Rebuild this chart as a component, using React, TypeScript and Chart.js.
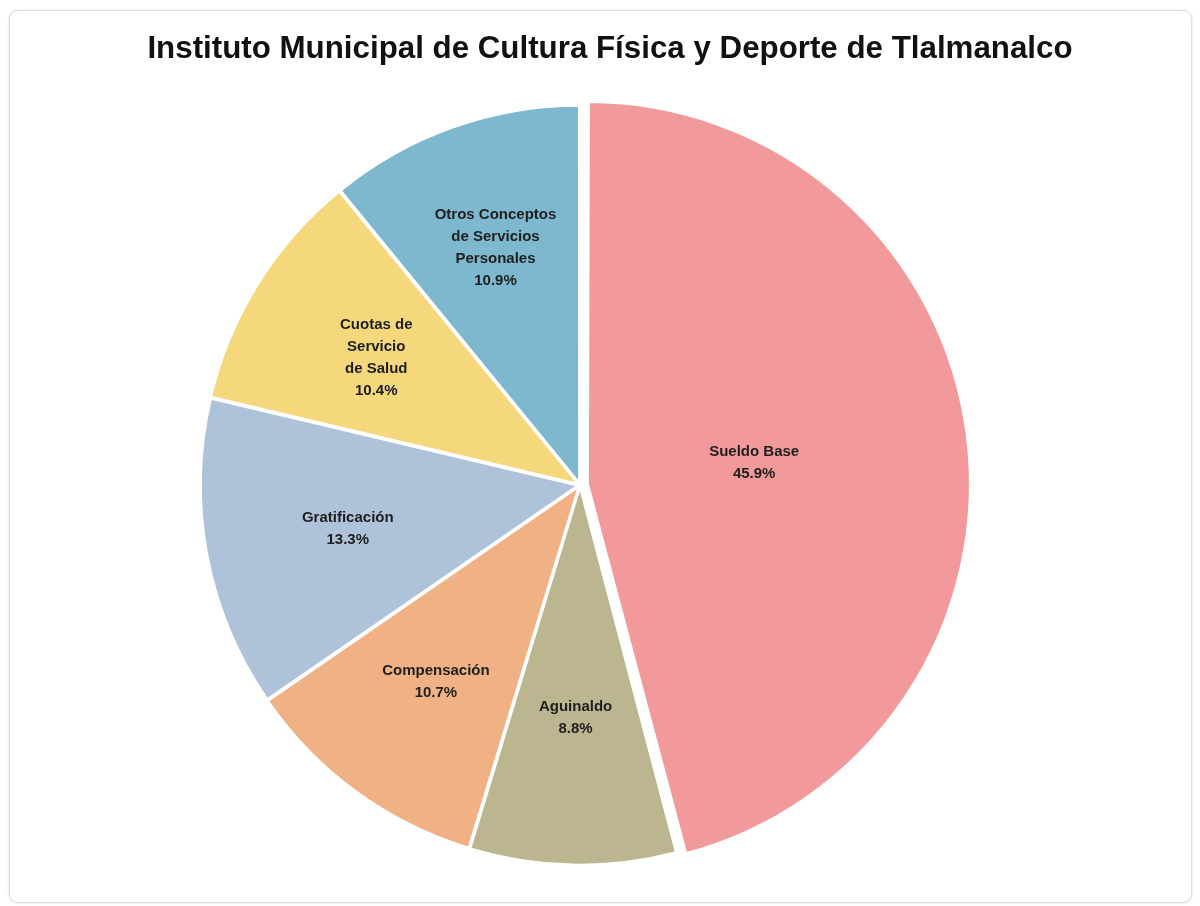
import React, { useEffect, useRef } from "react";
import { Chart, registerables } from "chart.js";

Chart.register(...registerables);

const TITLE = "Instituto Municipal de Cultura Física y Deporte de Tlalmanalco";
const categories = [
  "Sueldo Base",
  "Aguinaldo",
  "Compensación",
  "Gratificación",
  "Cuotas de Servicio de Salud",
  "Otros Conceptos de Servicios Personales",
];
const categoryLines = [
  ["Sueldo Base"],
  ["Aguinaldo"],
  ["Compensación"],
  ["Gratificación"],
  ["Cuotas de", "Servicio", "de Salud"],
  ["Otros Conceptos", "de Servicios", "Personales"],
];
const percentages = [45.9, 8.8, 10.7, 13.3, 10.4, 10.9];
const colors = ["#F29A9B", "#BCB690", "#F0B284", "#AEC3DA", "#F5D77C", "#7DB8CE"];

const labelPlugin = {
  id: "sliceLabels",
  afterDatasetsDraw(chart: any, _args: any, opts: any) {
    const ctx = chart.ctx;
    const meta = chart.getDatasetMeta(0);
    const fr: number[] = opts.radii;
    ctx.save();
    ctx.font = "bold 15px 'Liberation Sans', Arial, sans-serif";
    ctx.fillStyle = "#1e1e1e";
    ctx.textAlign = "center";
    ctx.textBaseline = "middle";
    meta.data.forEach((arc: any, i: number) => {
      const p = arc.getProps(["x", "y", "startAngle", "endAngle", "outerRadius", "circumference"], true);
      const mid = (p.startAngle + p.endAngle) / 2;
      const o = (arc.options.offset || 0) / 4;
      const fix = 1 - Math.sin(Math.min(Math.PI, p.circumference || 0));
      const shift = o * (1 + fix);
      const r = fr[i] * p.outerRadius + shift;
      const cx = p.x + Math.cos(mid) * r;
      const cy = p.y + Math.sin(mid) * r;
      const lines = [...categoryLines[i], percentages[i].toFixed(1) + "%"];
      const lh = 22;
      const y0 = cy - ((lines.length - 1) * lh) / 2;
      lines.forEach((t, k) => ctx.fillText(t, cx, y0 + k * lh));
    });
    ctx.restore();
  },
};

const titlePlugin = {
  id: "customTitle",
  afterDraw(chart: any, _args: any, opts: any) {
    const ctx = chart.ctx;
    ctx.save();
    ctx.font = "bold 31.3px 'Liberation Sans', Arial, sans-serif";
    ctx.fillStyle = "#111111";
    ctx.textAlign = "center";
    ctx.textBaseline = "middle";
    ctx.fillText(opts.text, opts.x, opts.y);
    ctx.restore();
  },
};

export default function App() {
  const ref = useRef<HTMLCanvasElement>(null);
  useEffect(() => {
    if (!ref.current) return;
    const chart = new Chart(ref.current, {
      type: "pie",
      data: {
        labels: categories,
        datasets: [
          {
            data: percentages,
            backgroundColor: colors,
            borderColor: "#ffffff",
            borderWidth: 2,
            offset: [32, 10, 10, 10, 10, 10],
          },
        ],
      },
      options: {
        responsive: false,
        animation: false,
        rotation: 0,
        layout: { padding: { top: 81, bottom: 24, left: 0, right: 41 } },
        plugins: {
          legend: { display: false },
          title: { display: false },
          tooltip: { enabled: false },
          sliceLabels: { radii: [0.43, 0.61, 0.64, 0.62, 0.63, 0.66] },
          customTitle: { text: TITLE, x: 600, y: 38 },
        } as any,
      },
      plugins: [labelPlugin, titlePlugin],
    });
    return () => chart.destroy();
  }, []);
  return (
    <div
      style={{
        position: "fixed",
        left: 9,
        top: 10,
        width: 1181,
        height: 891,
        border: "1px solid #dcdcdc",
        borderRadius: 9,
        boxShadow: "0 0 3px rgba(0,0,0,0.12)",
        background: "#ffffff",
        overflow: "hidden",
      }}
    >
      <canvas ref={ref} width={1181} height={891} style={{ display: "block" }} />
    </div>
  );
}
